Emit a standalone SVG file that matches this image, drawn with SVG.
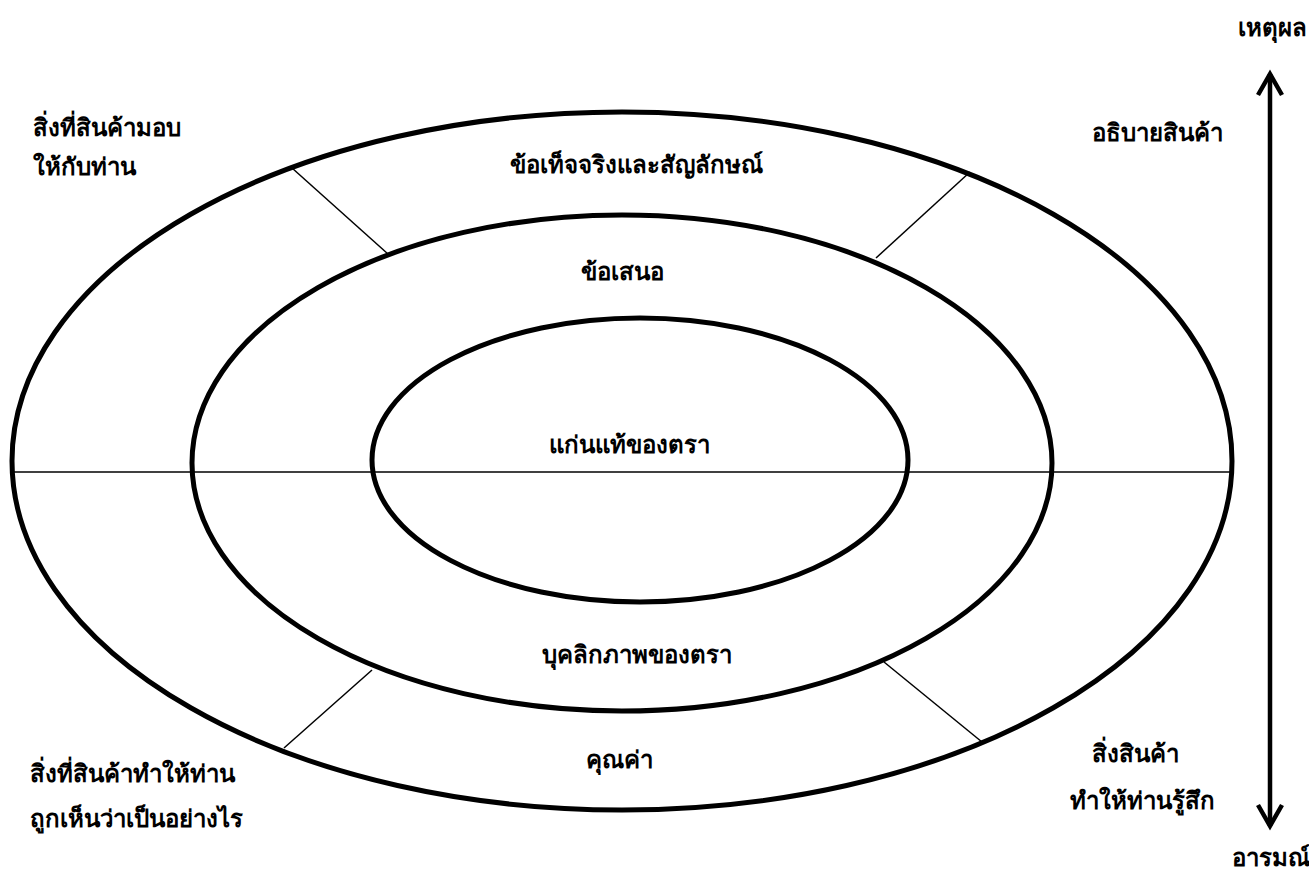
<svg xmlns="http://www.w3.org/2000/svg" width="1309" height="893" viewBox="0 0 1309 893">
<defs>
<style>
.ring{fill:none;stroke:#000;stroke-width:5}
.thin{stroke:#000;stroke-width:1.5;fill:none}
.t{font-family:"Noto Sans","DejaVu Sans",sans-serif;font-weight:bold;font-size:24px;fill:#000}
.c{text-anchor:middle}
</style>
<marker id="ah" viewBox="0 0 30 30" refX="25" refY="15" markerWidth="30" markerHeight="30" markerUnits="userSpaceOnUse" orient="auto-start-reverse">
<polyline points="4,3 25,15 4,27" fill="none" stroke="#000" stroke-width="4.5" stroke-linejoin="miter"/>
</marker>
</defs>
<rect width="1309" height="893" fill="#fff"/>
<g id="outer-ring"><ellipse class="ring" cx="622" cy="461" rx="610" ry="349"/></g>
<g id="middle-ring"><ellipse class="ring" cx="622" cy="463" rx="430" ry="248"/></g>
<g id="inner-ring"><ellipse class="ring" cx="640" cy="460" rx="268" ry="142"/></g>
<g id="connectors">
<line class="thin" x1="12" y1="472" x2="1232" y2="472"/>
<line class="thin" x1="292" y1="168" x2="388" y2="254"/>
<line class="thin" x1="970" y1="172" x2="876" y2="258"/>
<line class="thin" x1="372" y1="670" x2="284" y2="748"/>
<line class="thin" x1="884" y1="662" x2="982" y2="742"/>
<line x1="1270" y1="74" x2="1270" y2="826" stroke="#000" stroke-width="4.5" marker-start="url(#ah)" marker-end="url(#ah)"/>
</g>
<g id="labels">
<text class="t c" x="1272" y="36">เหตุผล</text>
<text class="t c" x="1271" y="866">อารมณ์</text>
<text class="t" x="33" y="136">สิ่งที่สินค้ามอบ</text>
<text class="t" x="33" y="175">ให้กับท่าน</text>
<text class="t c" x="1157" y="141">อธิบายสินค้า</text>
<text class="t c" x="636" y="173">ข้อเท็จจริงและสัญลักษณ์</text>
<text class="t c" x="622" y="280">ข้อเสนอ</text>
<text class="t c" x="629" y="453">แก่นแท้ของตรา</text>
<text class="t c" x="637" y="663">บุคลิกภาพของตรา</text>
<text class="t c" x="619" y="768">คุณค่า</text>
<text class="t" x="30" y="782">สิ่งที่สินค้าทำให้ท่าน</text>
<text class="t" x="30" y="827">ถูกเห็นว่าเป็นอย่างไร</text>
<text class="t c" x="1135" y="762">สิ่งสินค้า</text>
<text class="t c" x="1142" y="809">ทำให้ท่านรู้สึก</text>
</g>
</svg>
